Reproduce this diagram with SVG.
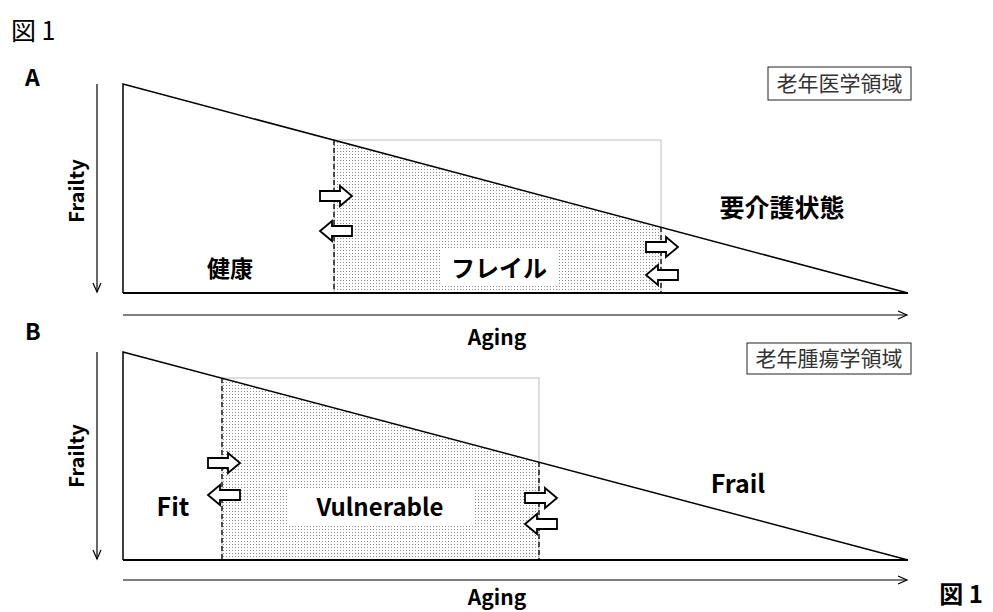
<svg xmlns="http://www.w3.org/2000/svg" width="993" height="612" viewBox="0 0 993 612">
<defs>
<pattern id="dots" width="3" height="3" patternUnits="userSpaceOnUse">
<rect x="1" y="1" width="1" height="1" fill="#8a8a8a"/>
</pattern>
<marker id="ah" markerWidth="12" markerHeight="12" refX="10" refY="5" orient="auto" markerUnits="userSpaceOnUse">
<path d="M1,1 L10,5 L1,9" fill="none" stroke="#000" stroke-width="1.2"/>
</marker>
<path id="rarr" d="M-16,-5 H4 V-10 L16,0 L4,10 V5 H-16 Z" fill="#fff" stroke="#000" stroke-width="1.8"/>
<path id="larr" d="M16,-5 H-4 V-10 L-16,0 L-4,10 V5 H16 Z" fill="#fff" stroke="#000" stroke-width="1.8"/>
</defs>
<style>
.tri{fill:none;stroke:#000;stroke-width:1.5}
.base{stroke:#000;stroke-width:2}
.dash{stroke:#000;stroke-width:1.3;stroke-dasharray:5,3}
.grey{fill:none;stroke:#bdbdbd;stroke-width:1}
.axis{stroke:#000;stroke-width:1.2;marker-end:url(#ah)}
.lbl{font-family:"Noto Sans CJK JP","Noto Sans",sans-serif;font-weight:bold;fill:#000;text-anchor:middle}
.box{fill:#fff;stroke:#222;stroke-width:1}
.boxt{font-family:"Noto Sans CJK JP",sans-serif;font-size:21px;fill:#333;text-anchor:middle}
</style>
<text x="11" y="40" font-family="Noto Sans CJK JP,serif" font-size="25">図 1</text>
<g id="panelA">
<text x="25" y="86" class="lbl" style="text-anchor:start" font-size="23">A</text>
<rect class="grey" x="334" y="140" width="327" height="153"/>
<polygon points="334,140.2 661,227.2 661,293 334,293" fill="url(#dots)"/>
<rect x="441" y="249" width="116" height="36" fill="#fff"/>
<path class="tri" d="M123,293 V84 L908,293"/>
<line class="base" x1="123" y1="293" x2="908" y2="293"/>
<line class="dash" x1="334" y1="140" x2="334" y2="293"/>
<line class="dash" x1="661" y1="227" x2="661" y2="293"/>
</g>
<g id="panelB">
<text x="25" y="340" class="lbl" style="text-anchor:start" font-size="23">B</text>
<rect class="grey" x="222" y="378" width="317" height="182"/>
<polygon points="222,378.2 539,462.2 539,560 222,560" fill="url(#dots)"/>
<rect x="287" y="488" width="186" height="37" fill="#fff"/>
<path class="tri" d="M123,560 V352 L908,560"/>
<line class="base" x1="123" y1="560" x2="908" y2="560"/>
<line class="dash" x1="222" y1="378" x2="222" y2="560"/>
<line class="dash" x1="539" y1="462" x2="539" y2="560"/>
</g>
<g id="connectors">
<line class="axis" x1="97" y1="84" x2="97" y2="292"/>
<line class="axis" x1="123" y1="315" x2="907" y2="315"/>
<line class="axis" x1="97" y1="352" x2="97" y2="559"/>
<line class="axis" x1="123" y1="580" x2="907" y2="580"/>
<use href="#rarr" x="336" y="196"/>
<use href="#larr" x="336" y="231"/>
<use href="#rarr" x="662" y="247"/>
<use href="#larr" x="662" y="275"/>
<use href="#rarr" x="224" y="463"/>
<use href="#larr" x="224" y="495"/>
<use href="#rarr" x="541" y="498"/>
<use href="#larr" x="541" y="524"/>
</g>
<g id="frailty-a"><text class="lbl" font-size="20" transform="translate(84,191) rotate(-90)">Frailty</text></g>
<g id="aging-a"><text class="lbl" x="497" y="345" font-size="21">Aging</text></g>
<g id="kenkou"><text class="lbl" x="230" y="277" font-size="23">健康</text></g>
<g id="frailty-jp"><text class="lbl" x="499" y="277" font-size="24">フレイル</text></g>
<g id="youkaigo"><text class="lbl" x="782" y="217" font-size="25">要介護状態</text></g>
<g id="label-a"><rect class="box" x="768" y="67" width="143" height="33"/><text class="boxt" x="839.5" y="91">老年医学領域</text></g>
<g id="frailty-b"><text class="lbl" font-size="20" transform="translate(84,456) rotate(-90)">Frailty</text></g>
<g id="aging-b"><text class="lbl" x="497" y="605" font-size="21">Aging</text></g>
<g id="fit"><text class="lbl" x="173" y="516" font-size="25">Fit</text></g>
<g id="vulnerable"><text class="lbl" x="380" y="516" font-size="24">Vulnerable</text></g>
<g id="frail"><text class="lbl" x="738" y="493" font-size="25">Frail</text></g>
<g id="label-b"><rect class="box" x="747" y="343" width="164" height="31"/><text class="boxt" x="829" y="366">老年腫瘍学領域</text></g>
<text x="961" y="603" class="lbl" font-size="24">図 1</text>
</svg>
